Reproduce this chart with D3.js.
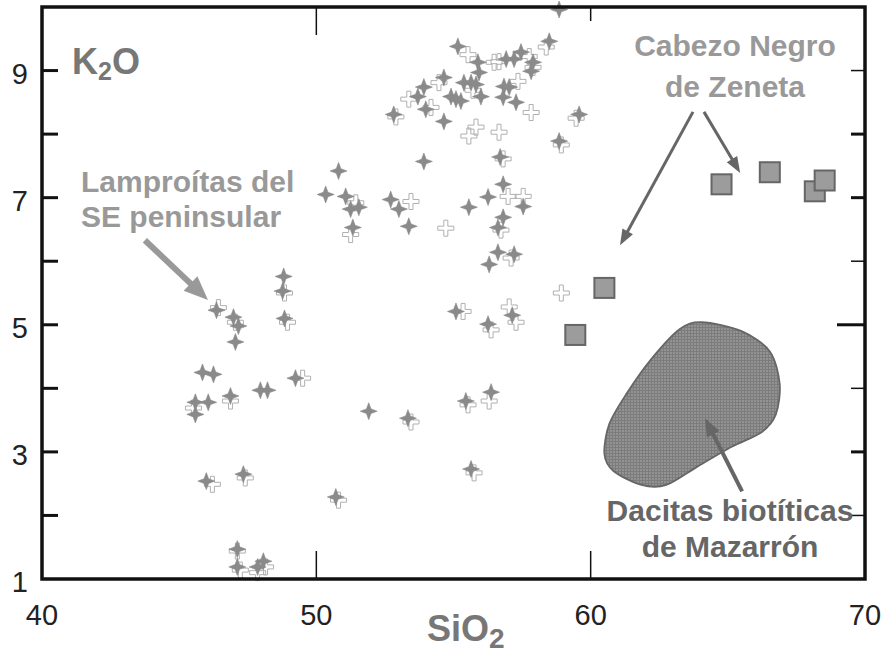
<!DOCTYPE html>
<html><head><meta charset="utf-8">
<script src="https://cdn.jsdelivr.net/npm/d3@7"></script>
<style>html,body{margin:0;padding:0;background:#fff}svg{display:block}</style>
</head><body>
<svg id="c" width="887" height="655"></svg>
<script>
// ---------- data ----------
const xTicks = [40, 50, 60, 70];
const yTickLabels = [1, 3, 5, 7, 9];
const yTicksLeft = [2, 3, 4, 5, 6, 7, 8, 9];
const yTicksRight = [2, 3, 4, 5, 6, 7, 8, 9];
const yTicksRightWidth = [1.5, 3, 1.5, 3, 1.5, 3, 3, 1.5];
const yTicksRightLen = [14, 14, 14, 28, 14, 14, 14, 14];
const xTicksTop = [50, 60];
const xTicksTopLen = [28, 14];
const xTicksBottom = [50, 60];

// Lamproítas (filled four-point stars): [SiO2, K2O]
const lamproitaStars = [
  [58.85,9.96],[58.49,9.46],[55.16,9.38],[55.89,9.13],[55.93,8.97],[56.92,9.18],[57.21,9.18],
  [57.46,9.29],[57.90,9.13],[57.83,8.99],[54.65,8.89],[55.38,8.81],[55.64,8.81],[55.82,8.78],
  [53.92,8.74],[53.70,8.59],[54.91,8.59],[55.09,8.55],[55.27,8.52],[56.00,8.59],[56.84,8.75],
  [57.03,8.74],[56.81,8.58],[57.28,8.50],[53.99,8.39],[52.82,8.31],[54.65,8.20],[59.58,8.31],
  [58.85,7.89],[53.92,7.57],[56.70,7.64],[50.81,7.42],[50.34,7.05],[51.07,7.02],[51.25,6.82],
  [51.55,6.85],[52.71,6.97],[53.01,6.82],[55.56,6.85],[56.26,7.01],[56.81,7.21],[57.54,6.86],
  [56.81,6.69],[51.33,6.53],[53.37,6.55],[56.62,6.53],[56.62,6.14],[57.21,6.11],[56.30,5.95],
  [55.09,5.21],[56.26,5.01],[57.14,5.15],[51.91,3.64],[53.34,3.53],[55.45,3.80],[56.37,3.94],
  [48.81,5.76],[48.77,5.53],[48.84,5.10],[46.36,5.23],[46.98,5.12],[47.16,4.98],[47.05,4.73],
  [45.85,4.25],[46.25,4.22],[45.59,3.78],[46.06,3.78],[45.59,3.59],[46.87,3.88],[47.96,3.97],
  [48.22,3.97],[49.24,4.16],[45.99,2.54],[47.34,2.65],[47.12,1.47],[47.12,1.19],[48.07,1.28],
  [47.86,1.19],[50.71,2.29],[55.64,2.73]
];
// Lamproítas (open crosses): [SiO2, K2O]
const lamproitaOpen = [
  [55.53,9.25],[56.48,9.13],[56.66,9.14],[57.76,9.22],[53.37,8.55],[57.35,8.83],[57.83,8.34],
  [55.82,8.11],[55.56,7.97],[56.66,8.03],[53.45,6.94],[56.99,7.02],[57.54,7.02],[54.72,6.52],
  [58.93,5.50],[55.35,5.21],[57.03,5.28],[49.50,4.16],[51.25,6.42],
  [58.38,9.37],[54.47,8.81],[55.71,8.69],[54.18,8.42],[59.47,8.25],[52.90,8.27],[57.90,9.05],
  [51.44,6.92],[56.73,6.49],[57.10,6.05],[56.37,4.92],[57.28,5.04],[46.43,5.27],[47.05,5.04],
  [48.84,5.50],[48.95,5.04],[46.21,2.49],[47.41,2.59],[47.12,1.44],[47.23,1.14],[48.15,1.19],
  [47.86,1.10],[45.52,3.69],[46.87,3.80],[56.30,3.80],[55.53,3.74],[53.45,3.47],[50.81,2.24],
  [55.75,2.67],[56.81,7.61],[58.93,7.83]
];
// Cabezo Negro de Zeneta (squares)
const zenetaSquares = [[59.44,4.84],[60.50,5.58],[64.77,7.21],[66.53,7.40],[68.17,7.10],[68.53,7.27]];
// Dacitas biotíticas de Mazarrón field outline
const mazarronField = [
  [64.04,5.04],[65.50,4.90],[66.53,4.58],[66.89,4.07],[66.75,3.59],[66.23,3.31],[65.14,3.08],
  [63.86,2.76],[62.76,2.48],[61.85,2.48],[60.83,2.70],[60.50,2.97],[60.68,3.44],[61.30,3.91],
  [62.21,4.46],[63.24,4.93]
];
// annotation arrows: [x1,y1,x2,y2] in data units
const arrowLamproitas = [[43.75,6.33,46.05,5.39]];
const arrowsZeneta = [[63.73,8.35,61.07,6.25],[64.13,8.35,65.45,7.39]];
const arrowMazarron = [[65.52,2.38,64.17,3.53]];

// ---------- scales ----------
const svg = d3.select("#c");
const L = 42, R = 865, T = 7, B = 579;
const x = d3.scaleLinear().domain([40, 70]).range([L, R]);
const y = d3.scaleLinear().domain([1, 10]).range([B, T]);
const FONT = "'Liberation Sans', Arial, Helvetica, sans-serif";

// pattern for field
const defs = svg.append("defs");
const pat = defs.append("pattern").attr("id","hatch").attr("patternUnits","userSpaceOnUse")
  .attr("width",3).attr("height",3);
pat.append("rect").attr("width",3).attr("height",3).attr("fill","#939393");
pat.append("path").attr("d","M0,0.5H3M0.5,0V3").attr("stroke","#7c7c7c").attr("stroke-width",1);

// field
svg.append("path")
  .attr("d", d3.line().x(d=>x(d[0])).y(d=>y(d[1])).curve(d3.curveCardinalClosed.tension(0.1))(mazarronField))
  .attr("fill","url(#hatch)").attr("stroke","#666").attr("stroke-width",1.8);

// open crosses
const a = 2, l = 8;
const openPath = `M${-a},${-l}H${a}V${-a}H${l}V${a}H${a}V${l}H${-a}V${a}H${-l}V${-a}H${-a}Z`;
svg.append("g").selectAll("path").data(lamproitaOpen).join("path")
  .attr("d", openPath).attr("transform", d=>`translate(${x(d[0])},${y(d[1])})`)
  .attr("fill","none").attr("stroke","#b0b0b0").attr("stroke-width",1);

// stars
const r = 8.5, w = 2.3;
const starPath = `M0,${-r}L${w},${-w}L${r},0L${w},${w}L0,${r}L${-w},${w}L${-r},0L${-w},${-w}Z`;
svg.append("g").selectAll("path").data(lamproitaStars).join("path")
  .attr("d", starPath).attr("transform", d=>`translate(${x(d[0])},${y(d[1])})`)
  .attr("fill","#8a8a8a").attr("stroke","#8a8a8a").attr("stroke-width",0.6).attr("stroke-linejoin","round");

// squares
const s = 20;
svg.append("g").selectAll("rect").data(zenetaSquares).join("rect")
  .attr("x", d=>x(d[0])-s/2).attr("y", d=>y(d[1])-s/2).attr("width",s).attr("height",s)
  .attr("fill","#9c9c9c").attr("stroke","#666").attr("stroke-width",2);

// arrows
function arrow(g, d, color, width, headLen, headW) {
  const x1=x(d[0]), y1=y(d[1]), x2=x(d[2]), y2=y(d[3]);
  const ang = Math.atan2(y2-y1, x2-x1);
  const bx = x2 - headLen*Math.cos(ang), by = y2 - headLen*Math.sin(ang);
  g.append("line").attr("x1",x1).attr("y1",y1).attr("x2",bx+Math.cos(ang)*2).attr("y2",by+Math.sin(ang)*2)
    .attr("stroke",color).attr("stroke-width",width);
  const px = -Math.sin(ang), py = Math.cos(ang);
  g.append("path").attr("d",`M${x2},${y2}L${bx+px*headW/2},${by+py*headW/2}L${bx-px*headW/2},${by-py*headW/2}Z`)
    .attr("fill",color);
}
const ga = svg.append("g");
arrowLamproitas.forEach(d=>arrow(ga,d,"#999",6,24,20));
arrowsZeneta.forEach(d=>arrow(ga,d,"#666",3,16,12));
arrowMazarron.forEach(d=>arrow(ga,d,"#666",4,18,14));

// frame
svg.append("rect").attr("x",L).attr("y",T).attr("width",R-L).attr("height",B-T)
  .attr("fill","none").attr("stroke","#111").attr("stroke-width",3.5);

// ticks
const tg = svg.append("g").attr("stroke","#111");
yTicksLeft.forEach(v=>tg.append("line").attr("x1",L).attr("x2",L+16).attr("y1",y(v)).attr("y2",y(v)).attr("stroke-width",3));
yTicksRight.forEach((v,i)=>tg.append("line").attr("x1",R).attr("x2",R-yTicksRightLen[i]).attr("y1",y(v)).attr("y2",y(v)).attr("stroke-width",yTicksRightWidth[i]));
xTicksTop.forEach((v,i)=>tg.append("line").attr("x1",x(v)).attr("x2",x(v)).attr("y1",T).attr("y2",T+xTicksTopLen[i]).attr("stroke-width",1.5));
xTicksBottom.forEach(v=>tg.append("line").attr("x1",x(v)).attr("x2",x(v)).attr("y1",B).attr("y2",B-28).attr("stroke-width",1.5));

// tick labels
svg.append("g").selectAll("text").data(xTicks).join("text")
  .attr("x", d=>x(d)).attr("y", 625).attr("text-anchor","middle")
  .attr("font-family",FONT).attr("font-size",29).attr("fill","#222").text(d=>d);
svg.append("g").selectAll("text").data(yTickLabels).join("text")
  .attr("x", 28).attr("y", d=>y(d)+13).attr("text-anchor","end")
  .attr("font-family",FONT).attr("font-size",29).attr("fill","#222").text(d=>d);

// axis titles
const k = svg.append("text").attr("x",72).attr("y",74).attr("font-family",FONT).attr("font-weight","bold")
  .attr("font-size",36).attr("fill","#777");
k.append("tspan").text("K");
k.append("tspan").attr("font-size",25).attr("dy",6).text("2");
k.append("tspan").attr("dy",-6).text("O");
const si = svg.append("text").attr("x",427).attr("y",641).attr("font-family",FONT).attr("font-weight","bold")
  .attr("font-size",36).attr("fill","#777");
si.append("tspan").text("SiO");
si.append("tspan").attr("font-size",28).attr("dy",7).text("2");

// annotation labels
function label(lines, xx, yy, anchor, color, lh) {
  const t = svg.append("text").attr("font-family",FONT).attr("font-weight","bold").attr("font-size",30)
    .attr("fill",color).attr("text-anchor",anchor);
  lines.forEach((s,i)=>t.append("tspan").attr("x",xx).attr("y",yy+i*lh).text(s));
}
label(["Lamproítas del","SE peninsular"], 81, 192, "start", "#999", 35);
label(["Cabezo Negro","de Zeneta"], 735, 56, "middle", "#999", 41);
label(["Dacitas biotíticas","de Mazarrón"], 730, 521, "middle", "#666", 36);
</script>
</body></html>
